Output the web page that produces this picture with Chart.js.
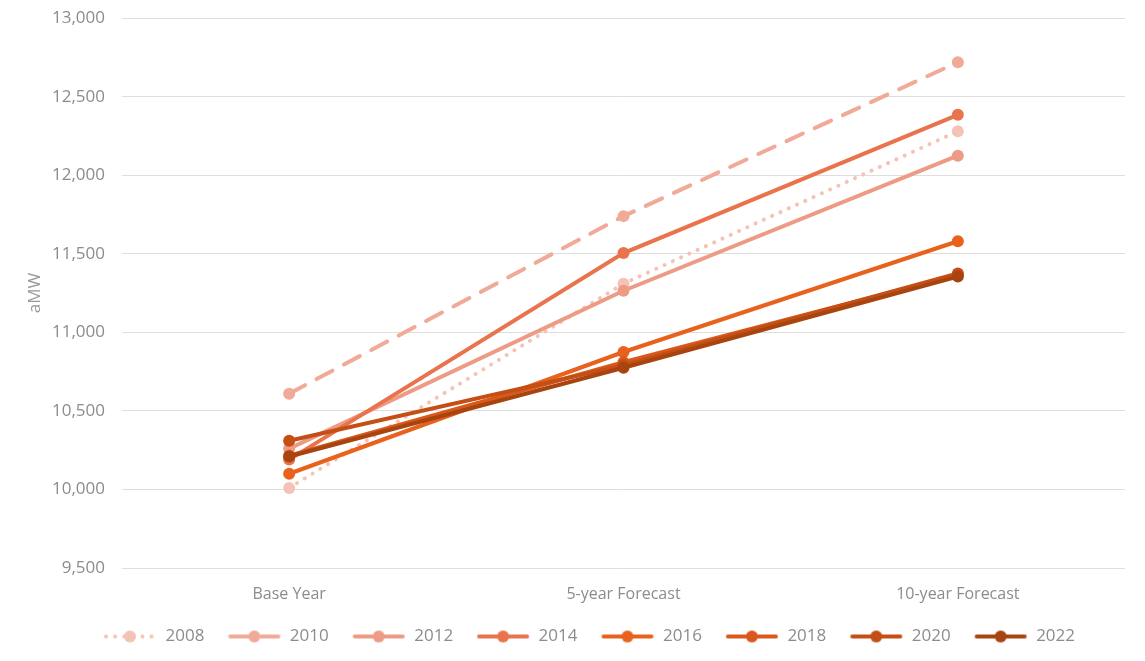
<!DOCTYPE html>
<html>
<head>
<meta charset="utf-8">
<script src="https://cdn.jsdelivr.net/npm/chart.js@4/dist/chart.umd.min.js"></script>
<style>
  html, body { margin: 0; padding: 0; background: #ffffff; }
  #wrap { width: 1145px; height: 661px; }
</style>
</head>
<body>
<div id="wrap"><canvas id="forecastChart" width="1145" height="661"></canvas></div>
<script>
// ===============================
// DATA
// ===============================
const categories = ["Base Year", "5-year Forecast", "10-year Forecast"];
const years = ["2008", "2010", "2012", "2014", "2016", "2018", "2020", "2022"];

const load2008 = [10010, 11310, 12280];
const load2010 = [10610, 11740, 12720];
const load2012 = [10260, 11265, 12125];
const load2014 = [10190, 11505, 12385];
const load2016 = [10100, 10875, 11580];
const load2018 = [10215, 10810, 11365];
const load2020 = [10310, 10790, 11375];
const load2022 = [10210, 10775, 11355];

const yTicks = { min: 9500, max: 13000, step: 500 };

// ===============================
// STYLES
// ===============================
const seriesColors = ["#f5c3b6", "#f1a998", "#ee9b85", "#e9734c", "#e8621e", "#d8591b", "#c44e14", "#a8440f"];
const seriesDash = [[0.1, 9], [18, 13], [], [], [], [], [], []];
const allSeries = [load2008, load2010, load2012, load2014, load2016, load2018, load2020, load2022];
const fontFamily = "'Open Sans', sans-serif";

// small canvas used as legend symbol: line + dot (2px blank on the left)
function legendSymbol(color, dash) {
    const c = document.createElement("canvas");
    c.width = 56;
    c.height = 16;
    const g = c.getContext("2d");
    g.strokeStyle = color;
    g.lineWidth = 4;
    g.lineCap = "round";
    g.setLineDash(dash);
    g.beginPath();
    g.moveTo(5, 8);
    g.lineTo(53, 8);
    g.stroke();
    g.setLineDash([]);
    g.fillStyle = color;
    g.beginPath();
    g.arc(29, 8, 6, 0, Math.PI * 2);
    g.fill();
    return c;
}

const datasets = years.map((yr, i) => ({
    label: yr,
    data: allSeries[i],
    borderColor: seriesColors[i],
    backgroundColor: seriesColors[i],
    borderWidth: 4,
    borderDash: seriesDash[i],
    borderCapStyle: "round",
    pointRadius: 6,
    pointHoverRadius: 6,
    pointBorderWidth: 0,
    tension: 0,
    fill: false,
    order: years.length - i,
    legendImg: legendSymbol(seriesColors[i], seriesDash[i])
}));

// nudge the legend a bit right, like the original
const legendShift = {
    id: "legendShift",
    afterLayout(chart) {
        if (chart.legend) {
            chart.legend.left += 13;
            chart.legend.right += 13;
        }
    }
};

// ===============================
// CHART
// ===============================
const ctx = document.getElementById("forecastChart").getContext("2d");

new Chart(ctx, {
    type: "line",
    data: { labels: categories, datasets: datasets },
    plugins: [legendShift],
    options: {
        responsive: false,
        animation: false,
        layout: { padding: { top: 1, right: 20, left: 25, bottom: 6 } },
        plugins: {
            legend: {
                position: "bottom",
                labels: {
                    usePointStyle: true,
                    pointStyleWidth: 56,
                    boxHeight: 16,
                    padding: 21,
                    color: "#8c8c8c",
                    font: { family: fontFamily, size: 17 },
                    generateLabels: function (chart) {
                        return chart.data.datasets.map((ds, i) => ({
                            text: ds.label,
                            fillStyle: ds.borderColor,
                            strokeStyle: ds.borderColor,
                            lineWidth: 0,
                            pointStyle: ds.legendImg,
                            fontColor: "#8c8c8c",
                            hidden: false,
                            datasetIndex: i
                        }));
                    }
                }
            },
            tooltip: { enabled: false }
        },
        scales: {
            x: {
                offset: true,
                grid: { display: false, drawTicks: false },
                border: { display: false },
                afterFit: scale => { scale.height = 39; },
                ticks: {
                    color: "#8c8c8c",
                    padding: 17,
                    font: { family: fontFamily, size: 16 }
                }
            },
            y: {
                min: yTicks.min,
                max: yTicks.max,
                grid: { color: "#dedede", lineWidth: 1, drawTicks: true, tickLength: 9, tickColor: "rgba(0,0,0,0)" },
                border: { display: false },
                afterFit: scale => { scale.width = 97; },
                ticks: {
                    stepSize: yTicks.step,
                    padding: 8,
                    color: "#8c8c8c",
                    font: { family: fontFamily, size: 17 },
                    callback: v => v.toLocaleString("en-US")
                },
                title: {
                    display: true,
                    text: "aMW",
                    color: "#999999",
                    font: { family: fontFamily, size: 17 },
                    padding: { top: 0, bottom: 12 }
                }
            }
        }
    }
});
</script>
</body>
</html>
